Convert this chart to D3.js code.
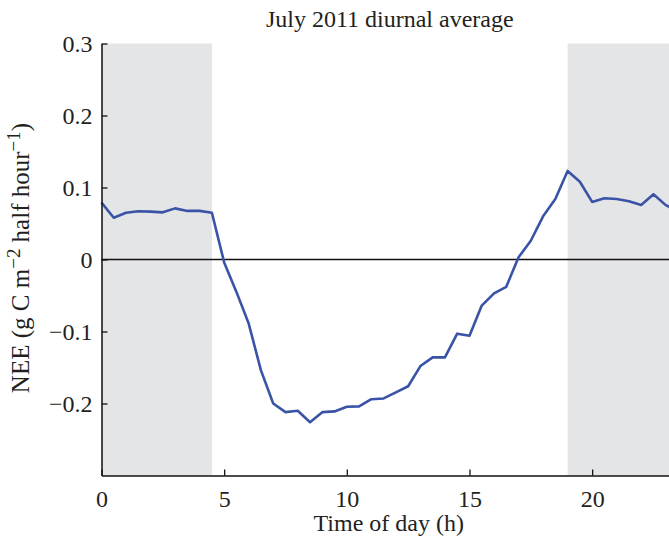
<!DOCTYPE html>
<html>
<head>
<meta charset="utf-8">
<script src="https://cdn.jsdelivr.net/npm/d3@7"></script>
<style>
  body { margin: 0; background: #fff; }
  svg { display: block; }
  text { font-family: "Liberation Serif", "Times New Roman", serif; fill: #231f20; }
</style>
</head>
<body>
<div id="chart"></div>
<script>
// half-hourly time of day (h)
var hours = [0, 0.5, 1, 1.5, 2, 2.5, 3, 3.5, 4, 4.5, 5, 5.5, 6, 6.5, 7, 7.5,
  8, 8.5, 9, 9.5, 10, 10.5, 11, 11.5, 12, 12.5, 13, 13.5, 14, 14.5, 15, 15.5,
  16, 16.5, 17, 17.5, 18, 18.5, 19, 19.5, 20, 20.5, 21, 21.5, 22, 22.5, 23, 23.5];

// NEE (g C m-2 half hour-1)
var nee = [0.079, 0.058, 0.065, 0.067, 0.0665, 0.0655, 0.071, 0.0675, 0.0675, 0.065,
  -0.004, -0.045, -0.089, -0.154, -0.200, -0.212, -0.210, -0.226, -0.212, -0.211,
  -0.2045, -0.204, -0.194, -0.193, -0.1845, -0.176, -0.148, -0.136, -0.136, -0.103,
  -0.106, -0.064, -0.047, -0.038, 0.003, 0.026, 0.060, 0.084, 0.123, 0.108,
  0.080, 0.085, 0.084, 0.081, 0.0757, 0.0905, 0.0755, 0.067];

// night periods (shaded)
var nightStart = [0, 19];
var nightEnd = [4.5, 23.5];

var xTicks = [0, 5, 10, 15, 20];
var yTicks = [-0.2, -0.1, 0, 0.1, 0.2, 0.3];

var svgWidth = 669;
var svgHeight = 536;

var margin = { top: 43.5, left: 101.5, bottom: 60.5 };
var width = 576.5;
var height = svgHeight - margin.top - margin.bottom;

var svg = d3.select("#chart")
  .append("svg")
  .attr("width", svgWidth)
  .attr("height", svgHeight);

var chartGroup = svg.append("g")
  .attr("transform", `translate(${margin.left}, ${margin.top})`);

var xScale = d3.scaleLinear()
  .domain([0, 23.5])
  .range([0, width]);

var yScale = d3.scaleLinear()
  .domain([-0.3, 0.3])
  .range([height, 0]);

// night shading
chartGroup.selectAll("rect.night")
  .data(nightStart)
  .enter()
  .append("rect")
  .attr("class", "night")
  .attr("x", d => xScale(d))
  .attr("y", 0)
  .attr("width", (d, i) => xScale(nightEnd[i]) - xScale(d))
  .attr("height", height)
  .attr("fill", "#e4e5e7");

// zero line
chartGroup.append("line")
  .attr("x1", 0)
  .attr("x2", width)
  .attr("y1", yScale(0))
  .attr("y2", yScale(0))
  .attr("stroke", "#111")
  .attr("stroke-width", 1.5);

var line = d3.line()
  .x((d, i) => xScale(hours[i]))
  .y(d => yScale(d));

chartGroup.append("path")
  .datum(nee)
  .attr("d", line)
  .attr("fill", "none")
  .attr("stroke", "#3a53a6")
  .attr("stroke-width", 2.6)
  .attr("stroke-linejoin", "round");

// axes, ticks point inward
var bottomAxis = d3.axisBottom(xScale)
  .tickValues(xTicks)
  .tickSize(-6)
  .tickPadding(14)
  .tickSizeOuter(0)
  .tickFormat(d3.format("d"));

var leftAxis = d3.axisLeft(yScale)
  .tickValues(yTicks)
  .tickSize(-6)
  .tickPadding(9)
  .tickSizeOuter(0)
  .tickFormat(d => d === 0 ? "0" : d3.format(".1f")(d).replace("-", "\u2212"));

var xAxisG = chartGroup.append("g")
  .attr("transform", `translate(0, ${height})`)
  .call(bottomAxis);

var yAxisG = chartGroup.append("g")
  .call(leftAxis);

[xAxisG, yAxisG].forEach(function (g) {
  g.select(".domain").attr("stroke", "#111").attr("stroke-width", 1.5);
  g.selectAll(".tick line").attr("stroke", "#111").attr("stroke-width", 1.3);
  g.selectAll(".tick text")
    .style("font-family", "'Liberation Serif', serif")
    .style("font-size", "24px")
    .attr("fill", "#231f20");
});

// title
svg.append("text")
  .attr("x", margin.left + width / 2)
  .attr("y", 27)
  .style("text-anchor", "middle")
  .style("font-size", "24px")
  .text("July 2011 diurnal average");

// x label
svg.append("text")
  .attr("x", margin.left + width / 2 - 1)
  .attr("y", 531)
  .style("text-anchor", "middle")
  .style("font-size", "24px")
  .text("Time of day (h)");

// y label with superscripts
var yLabel = svg.append("text")
  .attr("transform", `translate(29, 258) rotate(-90)`)
  .style("text-anchor", "middle")
  .style("font-size", "25px");

yLabel.append("tspan").text("NEE (g C m");
yLabel.append("tspan").attr("dy", -9).style("font-size", "19px").text("\u22122");
yLabel.append("tspan").attr("dy", 9).text(" half hour");
yLabel.append("tspan").attr("dy", -9).style("font-size", "19px").text("\u22121");
yLabel.append("tspan").attr("dy", 9).text(")");
</script>
</body>
</html>
